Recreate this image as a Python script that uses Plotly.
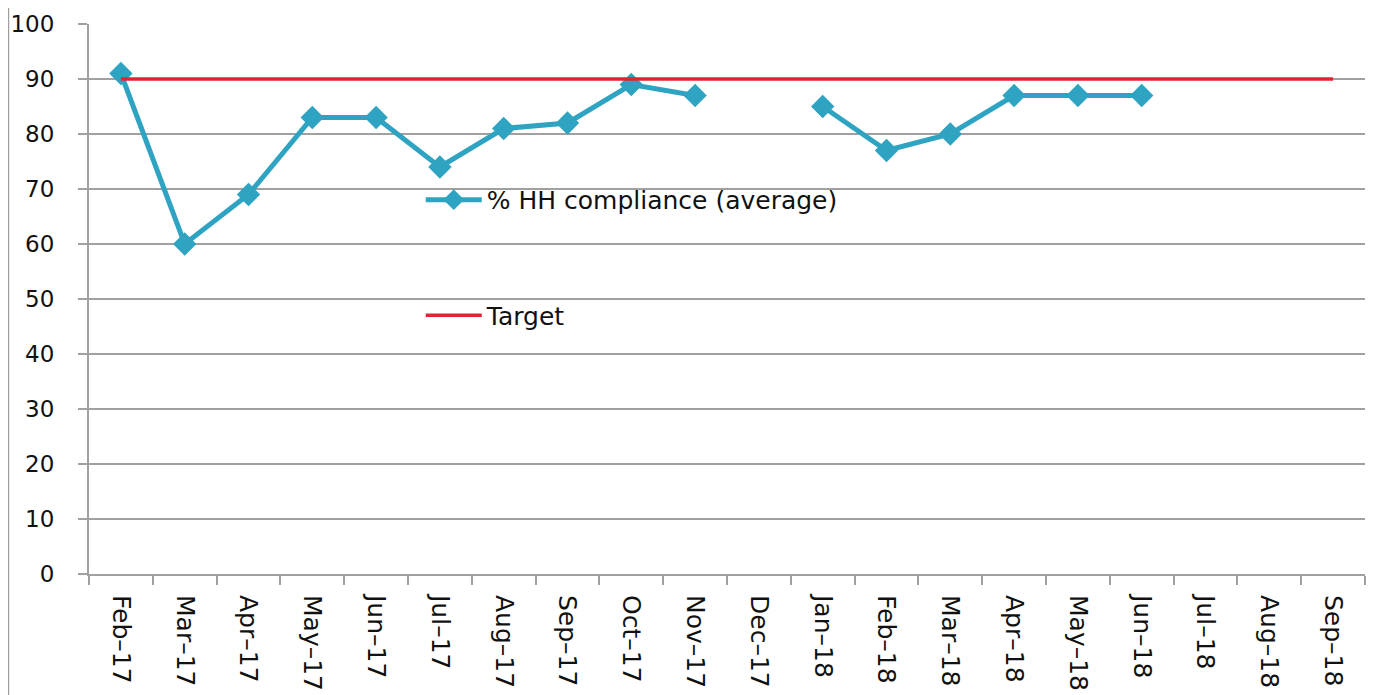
import plotly.graph_objects as go

months = ["Feb–17", "Mar–17", "Apr–17", "May–17", "Jun–17", "Jul–17", "Aug–17", "Sep–17",
          "Oct–17", "Nov–17", "Dec–17", "Jan–18", "Feb–18", "Mar–18", "Apr–18", "May–18",
          "Jun–18", "Jul–18", "Aug–18", "Sep–18"]
compliance = [91, 60, 69, 83, 83, 74, 81, 82, 89, 87, None, 85, 77, 80, 87, 87, 87, None, None, None]
target = [90] * len(months)
y_ticks = [0, 10, 20, 30, 40, 50, 60, 70, 80, 90, 100]

FONT = "DejaVu Sans, sans-serif"
GREY = "#a0a0a0"

fig = go.Figure()
fig.add_trace(go.Scatter(
    x=months, y=compliance, name="% HH compliance (average)", mode="lines+markers",
    line=dict(color="#2EA3C2", width=5), marker=dict(symbol="diamond", size=18, color="#2EA3C2"),
    connectgaps=False, legendgroup="a"))
fig.add_trace(go.Scatter(
    x=months, y=target, name="Target", mode="lines",
    line=dict(color="#E02430", width=3.5), legendgroup="b"))

fig.update_layout(
    width=1366, height=687,
    margin=dict(l=81, r=9, t=16, b=121, autoexpand=False),
    paper_bgcolor="white", plot_bgcolor="white",
    font=dict(family=FONT, size=23, color="#111111"),
    showlegend=True,
    legend=dict(x=0.26, y=0.722, xanchor="left", yanchor="top", bgcolor="rgba(0,0,0,0)",
                tracegroupgap=80, font=dict(size=25), itemwidth=56),
    xaxis=dict(type="category", range=[-0.5, 19.5], tickangle=90, ticks="outside",
               tickson="boundaries", ticklen=9, tickcolor=GREY, tickwidth=2, showline=True,
               linecolor=GREY, linewidth=2, showgrid=False, tickfont=dict(size=25),
               ticklabelstandoff=14, automargin=False),
    yaxis=dict(range=[0, 100], tickvals=y_ticks, ticks="outside", ticklen=9,
               tickcolor=GREY, tickwidth=2, showline=True, linecolor=GREY, linewidth=2,
               showgrid=True, gridcolor=GREY, gridwidth=2, zeroline=False,
               tickfont=dict(size=23), ticklabelstandoff=19, automargin=False),
    shapes=[dict(type="line", xref="paper", yref="paper", x0=-0.0631, x1=-0.0631, y0=-0.23, y1=1.03,
                 line=dict(color=GREY, width=1.5))],
)

fig.write_html("out.html")
